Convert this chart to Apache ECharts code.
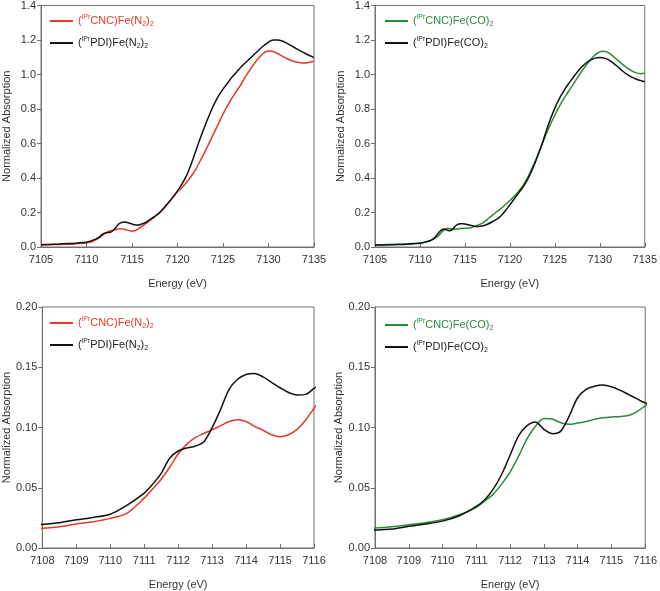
<!DOCTYPE html>
<html>
<head>
<meta charset="utf-8">
<script src="https://cdn.jsdelivr.net/npm/echarts@6/dist/echarts.min.js"></script>
<style>
html,body{margin:0;padding:0;background:#fff;}
#chart{width:660px;height:591px;}
</style>
</head>
<body>
<div id="chart"></div>
<script>
// Energy grid (eV)
var energy = [7105, 7106, 7107, 7108, 7108.5, 7109, 7109.5, 7110, 7110.5, 7111, 7111.25, 7111.5, 7111.75, 7112, 7112.25, 7112.5, 7112.75, 7113, 7113.25, 7113.5, 7113.75, 7114, 7114.25, 7114.5, 7114.75, 7115, 7115.25, 7115.5, 7115.75, 7116, 7116.5, 7117, 7117.5, 7118, 7118.5, 7119, 7119.5, 7120, 7120.5, 7121, 7121.5, 7122, 7122.5, 7123, 7123.5, 7124, 7124.5, 7125, 7125.5, 7126, 7126.5, 7127, 7127.5, 7128, 7128.5, 7129, 7129.5, 7130, 7130.5, 7131, 7131.5, 7132, 7132.5, 7133, 7133.5, 7134, 7134.5, 7135];

// (iPrCNC)Fe(N2)2
var cncN2 = [0.013, 0.014, 0.015, 0.0163, 0.0177, 0.0199, 0.0218, 0.0246, 0.029, 0.0414, 0.049, 0.057, 0.067, 0.078, 0.086, 0.0916, 0.095, 0.098, 0.1015, 0.105, 0.1065, 0.105, 0.101, 0.0977, 0.094, 0.0924, 0.094, 0.0985, 0.106, 0.116, 0.135, 0.155, 0.175, 0.197, 0.225, 0.256, 0.288, 0.32, 0.345, 0.375, 0.41, 0.45, 0.50, 0.55, 0.605, 0.66, 0.715, 0.77, 0.82, 0.865, 0.905, 0.945, 0.99, 1.03, 1.068, 1.10, 1.125, 1.136, 1.133, 1.122, 1.107, 1.093, 1.081, 1.073, 1.068, 1.067, 1.071, 1.077];
// (iPrPDI)Fe(N2)2
var pdiN2 = [0.013, 0.015, 0.017, 0.0196, 0.021, 0.0234, 0.0254, 0.028, 0.0356, 0.0455, 0.053, 0.062, 0.0745, 0.0805, 0.083, 0.0845, 0.088, 0.0999, 0.115, 0.1316, 0.140, 0.144, 0.1448, 0.142, 0.1375, 0.133, 0.129, 0.127, 0.1275, 0.1324, 0.142, 0.16, 0.178, 0.198, 0.226, 0.256, 0.289, 0.325, 0.366, 0.415, 0.48, 0.555, 0.63, 0.70, 0.765, 0.825, 0.875, 0.915, 0.95, 0.985, 1.015, 1.045, 1.07, 1.095, 1.12, 1.145, 1.168, 1.188, 1.2, 1.2, 1.194, 1.182, 1.167, 1.152, 1.137, 1.123, 1.11, 1.098];
// (iPrCNC)Fe(CO)2
var cncCO = [0.012, 0.013, 0.015, 0.0166, 0.0177, 0.0193, 0.021, 0.0234, 0.0276, 0.0337, 0.039, 0.0447, 0.053, 0.063, 0.076, 0.0905, 0.101, 0.1075, 0.107, 0.104, 0.1026, 0.1037, 0.105, 0.1068, 0.108, 0.1087, 0.109, 0.110, 0.113, 0.118, 0.128, 0.14, 0.16, 0.182, 0.203, 0.222, 0.245, 0.27, 0.295, 0.325, 0.36, 0.405, 0.46, 0.52, 0.585, 0.65, 0.71, 0.765, 0.815, 0.86, 0.90, 0.94, 0.98, 1.02, 1.055, 1.088, 1.115, 1.132, 1.135, 1.125, 1.105, 1.082, 1.06, 1.04, 1.023, 1.011, 1.005, 1.007];
// (iPrPDI)Fe(CO)2
var pdiCO = [0.011, 0.012, 0.013, 0.0149, 0.0157, 0.018, 0.0199, 0.0223, 0.0268, 0.0345, 0.040, 0.0488, 0.061, 0.077, 0.093, 0.1015, 0.1046, 0.0985, 0.0949, 0.097, 0.1095, 0.1247, 0.1316, 0.1343, 0.1352, 0.1338, 0.131, 0.1275, 0.124, 0.1205, 0.119, 0.123, 0.132, 0.145, 0.16, 0.18, 0.21, 0.245, 0.28, 0.315, 0.35, 0.395, 0.45, 0.515, 0.585, 0.665, 0.74, 0.805, 0.86, 0.905, 0.945, 0.98, 1.015, 1.045, 1.068, 1.085, 1.095, 1.098, 1.095, 1.085, 1.066, 1.045, 1.022, 1.002, 0.986, 0.974, 0.965, 0.958];

var labels = {
  cncN2: '({sup|iPr}CNC)Fe(N{sub|2}){sub|2}',
  pdiN2: '({sup|iPr}PDI)Fe(N{sub|2}){sub|2}',
  cncCO: '({sup|iPr}CNC)Fe(CO){sub|2}',
  pdiCO: '({sup|iPr}PDI)Fe(CO){sub|2}'
};
var RED = '#e23a27', GREEN = '#2a8a3c', BLACK = '#111111';
var FONT = 'Liberation Sans, Arial, sans-serif';
var AXIS_COLOR = '#707070';

function pairs(vals){ return energy.map(function(e,i){ return [e, vals[i]]; }); }

var grids = [
  {left:40, top:4, width:274, height:243},
  {left:375, top:4, width:273, height:243},
  {left:40, top:307, width:274, height:242},
  {left:375, top:307, width:273, height:242}
];

function xAx(i, min, max, interval){
  return {type:'value', gridIndex:i, min:min, max:max, interval:interval,
    name:'Energy (eV)', nameLocation:'middle', nameGap:31,
    nameTextStyle:{fontSize:11, color:'#333', fontFamily:FONT},
    axisLine:{show:true, onZero:false, lineStyle:{color:AXIS_COLOR, width:1}},
    axisTick:{show:true, inside:true, length:4, lineStyle:{color:AXIS_COLOR}},
    axisLabel:{fontSize:11, color:'#333', margin:7, fontFamily:FONT,
      formatter:function(v){ return String(v); }},
    splitLine:{show:false}};
}
function yAx(i, min, max, interval, dec){
  return {type:'value', gridIndex:i, min:min, max:max, interval:interval,
    name:'Normalized Absorption', nameLocation:'middle', nameGap:29,
    nameTextStyle:{fontSize:11, color:'#333', fontFamily:FONT},
    axisLine:{show:true, onZero:false, lineStyle:{color:AXIS_COLOR, width:1}},
    axisTick:{show:true, inside:false, length:4, lineStyle:{color:AXIS_COLOR}},
    axisLabel:{fontSize:11, color:'#333', margin:5, fontFamily:FONT,
      formatter:function(v){ return v.toFixed(dec); }},
    splitLine:{show:false}};
}
function ser(name, vals, color, gi){
  return {type:'line', name:name, xAxisIndex:gi, yAxisIndex:gi, data:pairs(vals),
    showSymbol:false, symbol:'none', smooth:0.3, clip:true,
    lineStyle:{color:color, width:1.5}, itemStyle:{color:color}, z: color===BLACK?3:2};
}
var rich = {
  sup:{fontSize:7, verticalAlign:'top', lineHeight:14, padding:[0,0,6,0], fontFamily:FONT},
  sub:{fontSize:7, verticalAlign:'bottom', lineHeight:14, padding:[6,0,0,0], fontFamily:FONT}
};
function leg(left, top, n1, c1, n2){
  return {orient:'vertical', left:left, top:top, padding:0, itemGap:8, itemWidth:23, itemHeight:14,
    icon:'path://M0,6 L23,6 L23,8 L0,8 Z',
    formatter:function(n){ return labels[n]; },
    textStyle:{fontSize:11, fontFamily:FONT, rich:rich, lineHeight:14},
    data:[{name:n1, textStyle:{color:c1}, itemStyle:{color:c1}},
          {name:n2, textStyle:{color:'#222'}, itemStyle:{color:BLACK}}],
    selectedMode:false};
}

var chart = echarts.init(document.getElementById('chart'), null, {renderer:'canvas'});
chart.setOption({
  animation:false,
  backgroundColor:'#fff',
  grid: grids.map(function(g){ return Object.assign({show:true, borderColor:AXIS_COLOR, borderWidth:1, backgroundColor:'transparent'}, g); }),
  xAxis:[xAx(0,7105,7135,5), xAx(1,7105,7135,5), xAx(2,7108,7116,1), xAx(3,7108,7116,1)],
  yAxis:[yAx(0,0,1.4,0.2,1), yAx(1,0,1.4,0.2,1), yAx(2,0,0.2,0.05,2), yAx(3,0,0.2,0.05,2)],
  legend:[leg(50,14,'cncN2',RED,'pdiN2'), leg(385,14,'cncCO',GREEN,'pdiCO'),
          leg(50,316,'cncN2',RED,'pdiN2'), leg(385,318,'cncCO',GREEN,'pdiCO')],
  series:[
    ser('cncN2', cncN2, RED, 0), ser('pdiN2', pdiN2, BLACK, 0),
    ser('cncCO', cncCO, GREEN, 1), ser('pdiCO', pdiCO, BLACK, 1),
    ser('cncN2', cncN2, RED, 2), ser('pdiN2', pdiN2, BLACK, 2),
    ser('cncCO', cncCO, GREEN, 3), ser('pdiCO', pdiCO, BLACK, 3)
  ]
});
</script>
</body>
</html>
